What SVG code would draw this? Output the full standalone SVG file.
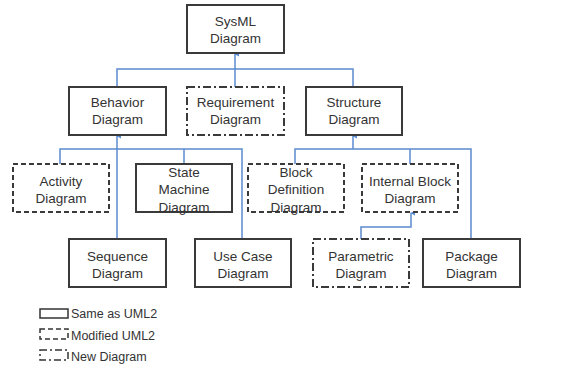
<svg xmlns="http://www.w3.org/2000/svg" width="564" height="368" viewBox="0 0 564 368">
  <defs>
    <marker id="arrow" viewBox="0 0 6 6" refX="3" refY="1" markerWidth="5" markerHeight="5" orient="auto-start-reverse" markerUnits="userSpaceOnUse">
      <path d="M0,6 L3,0 L6,6 Z" fill="#5b8bd0"/>
    </marker>
  </defs>
  <style>
    .box { fill: #ffffff; stroke: #3a3a3a; stroke-width: 2; }
    .mod { stroke-dasharray: 5 3; }
    .new { stroke-dasharray: 8 3 2 3; }
    .lbl { font-family: "Liberation Sans", Arial, sans-serif; font-size: 13.5px; fill: #333333; text-anchor: middle; }
    .leg { font-family: "Liberation Sans", Arial, sans-serif; font-size: 12.5px; fill: #333333; }
    .wire { fill: none; stroke: #5b8bd0; stroke-width: 1.5; }
  </style>
  <rect width="564" height="368" fill="#ffffff"/>

  <!-- connectors -->
  <g id="connectors">
    <path class="wire" d="M235,87 V54" marker-end="url(#arrow)"/>
    <path class="wire" d="M117,87 V69 H353 V87"/>
    <path class="wire" d="M117,239 V136" marker-end="url(#arrow)"/>
    <path class="wire" d="M60,164 V149 H242 V239"/>
    <path class="wire" d="M184,149 V164"/>
    <path class="wire" d="M353,149 V136" marker-end="url(#arrow)"/>
    <path class="wire" d="M295,164 V149 H471 V239"/>
    <path class="wire" d="M410,149 V164"/>
    <path class="wire" d="M361,239 V227 H411 V213" marker-end="url(#arrow)"/>
  </g>

  <g id="sysml">
    <rect class="box" x="187" y="5" width="97" height="48"/>
    <text class="lbl" x="235.5" y="26">SysML</text>
    <text class="lbl" x="235.5" y="43">Diagram</text>
  </g>
  <g id="behavior">
    <rect class="box" x="69" y="87" width="97" height="48"/>
    <text class="lbl" x="117.5" y="107">Behavior</text>
    <text class="lbl" x="117.5" y="124">Diagram</text>
  </g>
  <g id="requirement">
    <rect class="box new" x="187" y="87" width="97" height="48"/>
    <text class="lbl" x="235.5" y="107">Requirement</text>
    <text class="lbl" x="235.5" y="124">Diagram</text>
  </g>
  <g id="structure">
    <rect class="box" x="306" y="87" width="96" height="48"/>
    <text class="lbl" x="354" y="107">Structure</text>
    <text class="lbl" x="354" y="124">Diagram</text>
  </g>

  <g id="activity">
    <rect class="box mod" x="13" y="164" width="96" height="48"/>
    <text class="lbl" x="61" y="186">Activity</text>
    <text class="lbl" x="61" y="203">Diagram</text>
  </g>
  <g id="state-machine">
    <rect class="box" x="136" y="164" width="96" height="48"/>
    <text class="lbl" x="184" y="177">State</text>
    <text class="lbl" x="184" y="194">Machine</text>
    <text class="lbl" x="184" y="212">Diagram</text>
  </g>
  <g id="block-definition">
    <rect class="box mod" x="248" y="164" width="96" height="48"/>
    <text class="lbl" x="296" y="177">Block</text>
    <text class="lbl" x="296" y="194">Definition</text>
    <text class="lbl" x="296" y="212">Diagram</text>
  </g>
  <g id="internal-block">
    <rect class="box mod" x="362" y="164" width="96" height="48"/>
    <text class="lbl" x="410" y="186">Internal Block</text>
    <text class="lbl" x="410" y="203">Diagram</text>
  </g>

  <g id="sequence">
    <rect class="box" x="69" y="239" width="97" height="48"/>
    <text class="lbl" x="117.5" y="261">Sequence</text>
    <text class="lbl" x="117.5" y="278">Diagram</text>
  </g>
  <g id="use-case">
    <rect class="box" x="195" y="239" width="96" height="48"/>
    <text class="lbl" x="243" y="261">Use Case</text>
    <text class="lbl" x="243" y="278">Diagram</text>
  </g>
  <g id="parametric">
    <rect class="box new" x="313" y="239" width="96" height="48"/>
    <text class="lbl" x="361" y="261">Parametric</text>
    <text class="lbl" x="361" y="278">Diagram</text>
  </g>
  <g id="package">
    <rect class="box" x="423" y="239" width="97" height="48"/>
    <text class="lbl" x="471.5" y="261">Package</text>
    <text class="lbl" x="471.5" y="278">Diagram</text>
  </g>

  <!-- legend -->
  <g id="legend">
    <rect x="40" y="309" width="28" height="9" fill="none" stroke="#333333" stroke-width="1.5"/>
    <text class="leg" x="71" y="318">Same as UML2</text>
    <rect x="40" y="329" width="28" height="10" fill="none" stroke="#333333" stroke-width="1.5" stroke-dasharray="5 3"/>
    <text class="leg" x="71" y="340">Modified UML2</text>
    <rect x="40" y="350" width="28" height="10" fill="none" stroke="#333333" stroke-width="1.5" stroke-dasharray="7 3 2 3"/>
    <text class="leg" x="71" y="361">New Diagram</text>
  </g>
</svg>
